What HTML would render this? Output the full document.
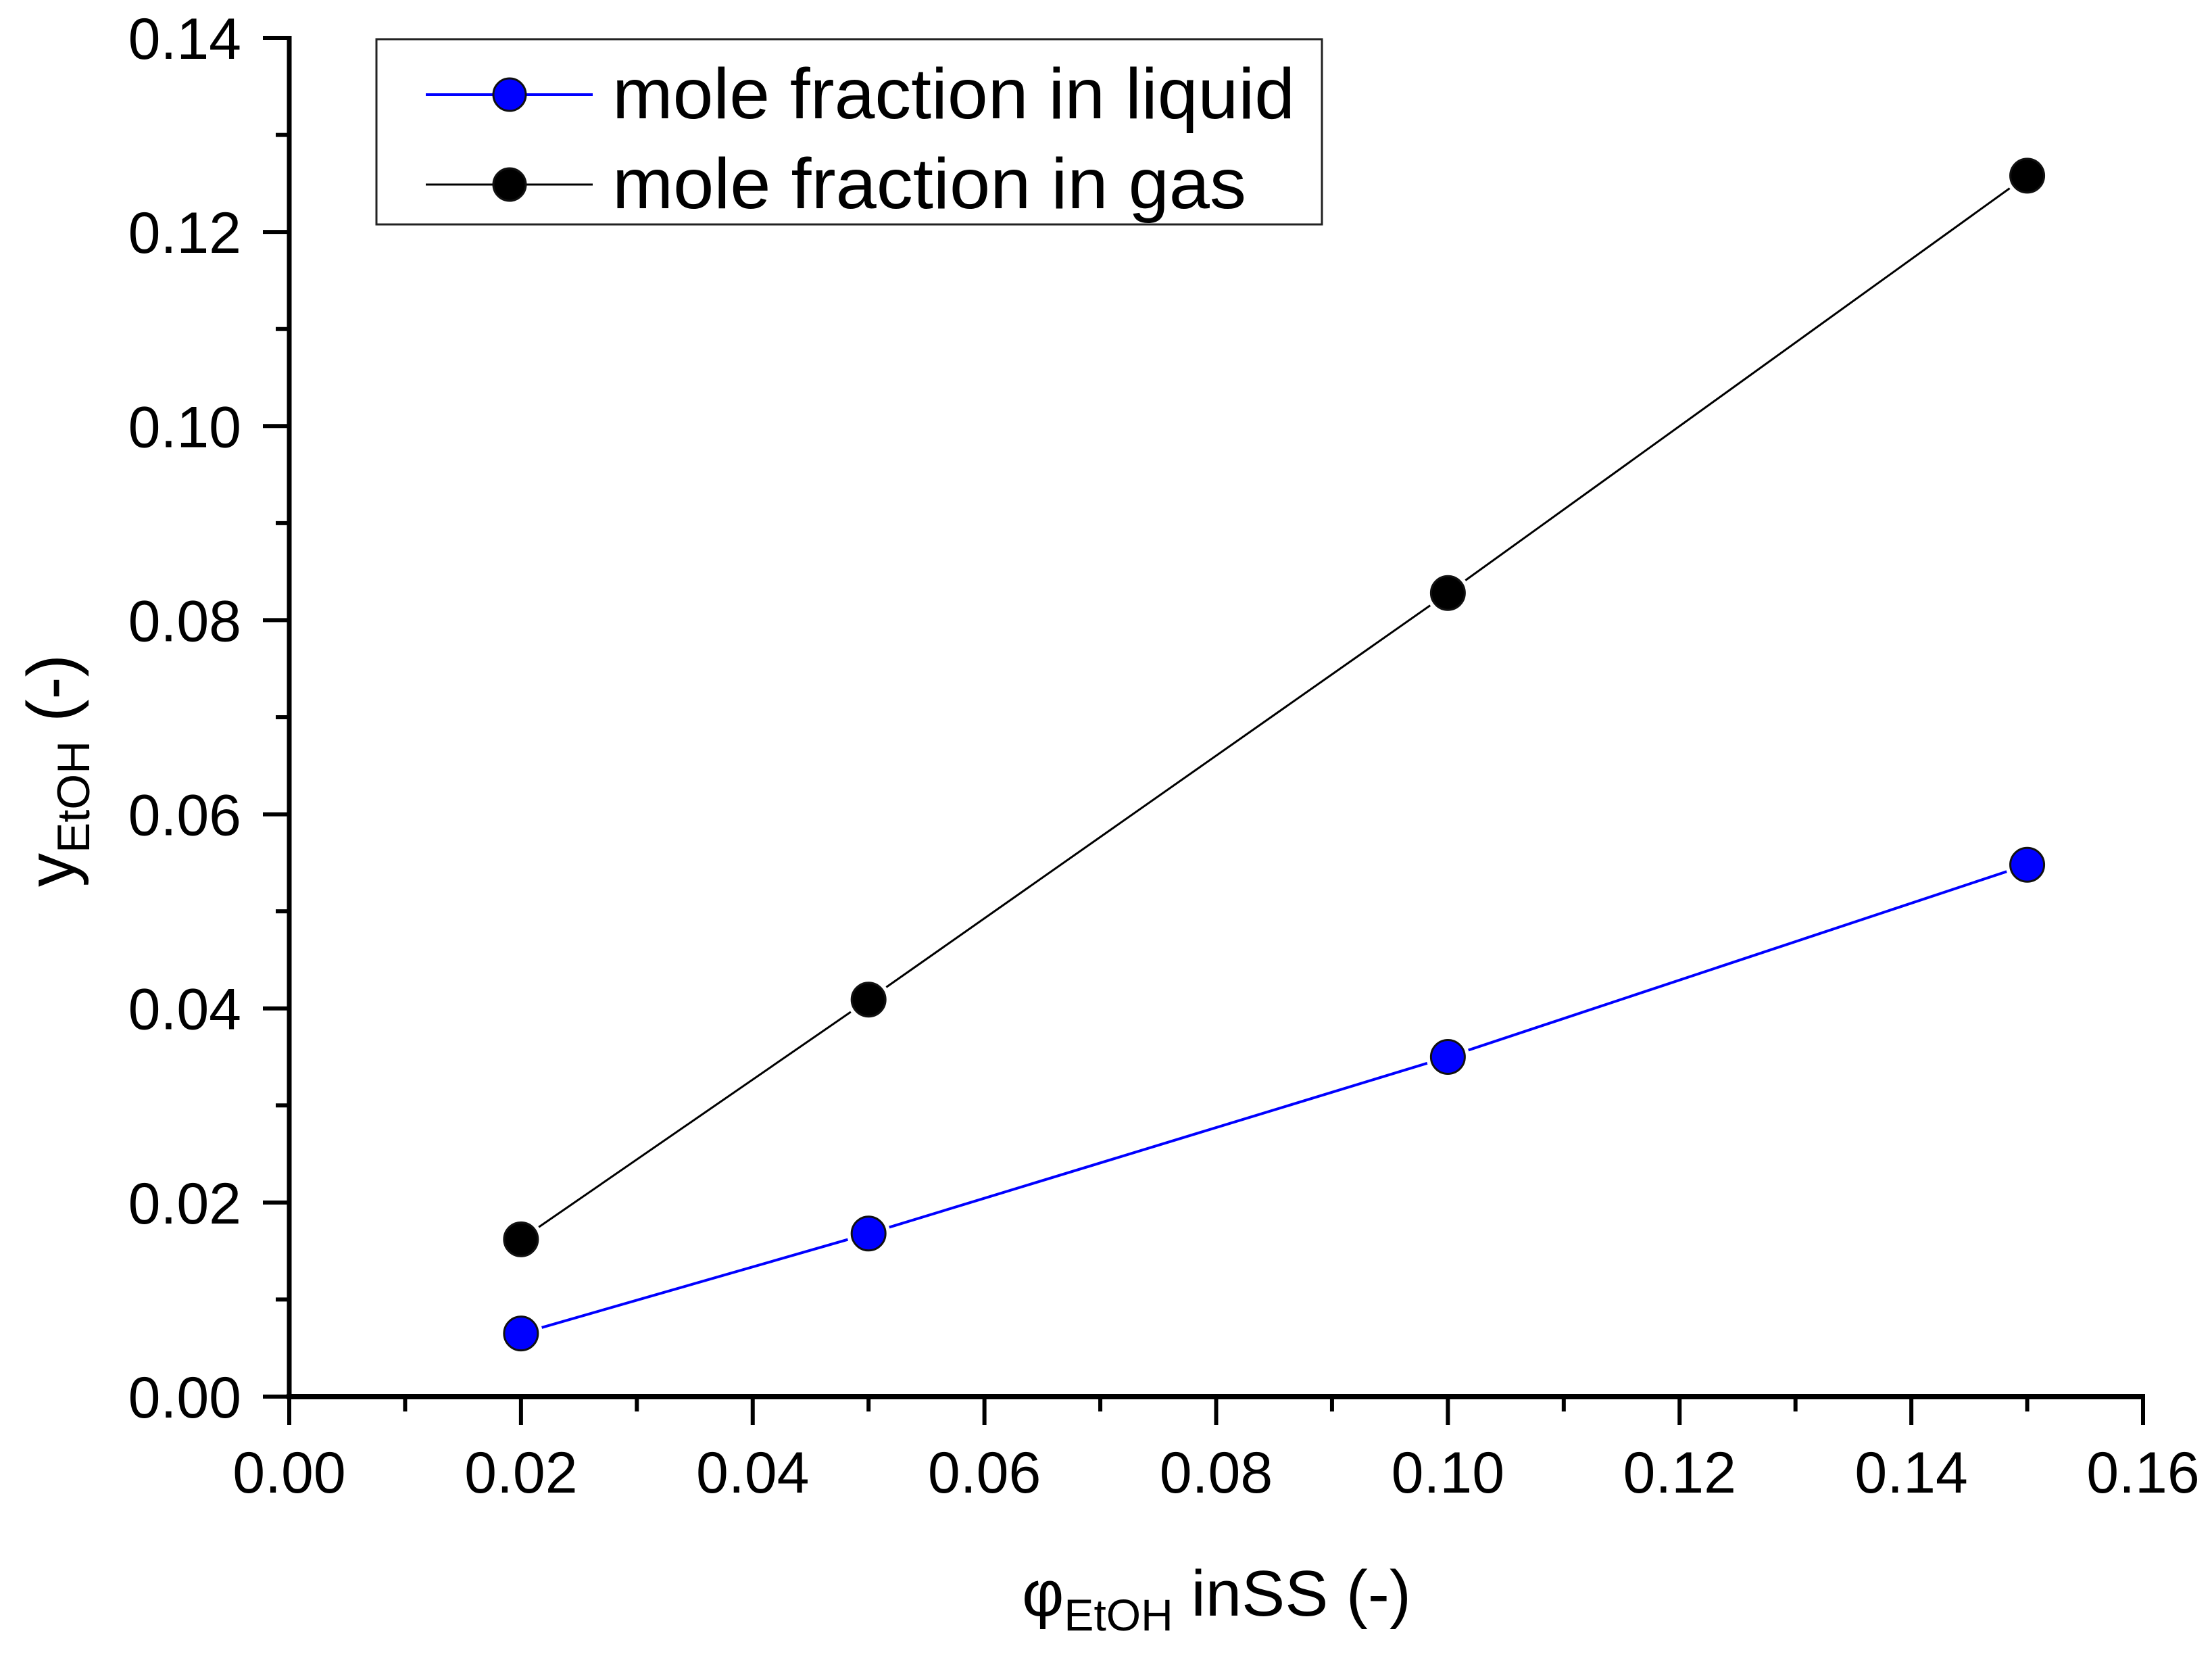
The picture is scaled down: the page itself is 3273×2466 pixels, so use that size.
<!DOCTYPE html>
<html><head><meta charset="utf-8"><style>
html,body{margin:0;padding:0;background:#fff;}
svg{display:block;font-family:"Liberation Sans",Arial,sans-serif;}
</style></head><body>
<svg id="chart" width="3273" height="2466" viewBox="0 0 3273 2466" xmlns="http://www.w3.org/2000/svg">
<rect x="0" y="0" width="3273" height="2466" fill="#fff"/>
<g id="axes"></g>
<g id="series"></g>
<text x="1800" y="2390" text-anchor="middle" font-size="96">φ<tspan font-size="66" dy="22">EtOH</tspan><tspan dy="-22"> inSS (-)</tspan></text>
<text transform="translate(110,1140) rotate(-90)" text-anchor="middle" font-size="100">y<tspan font-size="68" dy="22">EtOH</tspan><tspan dy="-22"> (-)</tspan></text>
<g>
<rect x="557" y="58" width="1399" height="274" fill="#fff" stroke="#222" stroke-width="3"/>
<g>
<line x1="630" y1="140" x2="877" y2="140" stroke="#0000ff" stroke-width="4"/>
<circle cx="754" cy="140" r="24" fill="#0000ff" stroke="#111" stroke-width="3"/>
<text x="906" y="175" font-size="106" textLength="1010" lengthAdjust="spacingAndGlyphs">mole fraction in liquid</text>
</g>
<g>
<line x1="630" y1="273" x2="877" y2="273" stroke="#000" stroke-width="3"/>
<circle cx="754" cy="273" r="24" fill="#000" stroke="#111" stroke-width="3"/>
<text x="906" y="308" font-size="106" textLength="938" lengthAdjust="spacingAndGlyphs">mole fraction in gas</text>
</g>
</g>
</svg>
<script>
const xCategories = [0.02, 0.05, 0.10, 0.15];
const liquidValues = [0.0065, 0.0168, 0.0350, 0.0548];
const gasValues = [0.0162, 0.0409, 0.0828, 0.1258];
const xTickLabels = ["0.00","0.02","0.04","0.06","0.08","0.10","0.12","0.14","0.16"];
const yTickLabels = ["0.00","0.02","0.04","0.06","0.08","0.10","0.12","0.14"];

const NS = "http://www.w3.org/2000/svg";
const X0 = 428, X1 = 3171, Y0 = 2066, Y1 = 56;
function xs(v){ return X0 + (v - 0) / 0.16 * (X1 - X0); }
function ys(v){ return Y0 - (v - 0) / 0.14 * (Y0 - Y1); }
function mk(tag, attrs, parent){ const e = document.createElementNS(NS, tag); for (const k in attrs) e.setAttribute(k, attrs[k]); parent.appendChild(e); return e; }

const axes = document.getElementById('axes');
let el = mk('line', {x1: X0, y1: Y1 - 3, x2: X0, y2: Y0 + 4, stroke: '#000', 'stroke-width': 7}, axes);


el = mk('line', {x1: X0 - 4, y1: Y0, x2: X1 + 3, y2: Y0, stroke: '#000', 'stroke-width': 8}, axes);



xTickLabels.forEach((lab, i) => {
  const v = parseFloat(lab);
  const x = xs(v);
  let t = mk('line', {x1: x, y1: Y0, x2: x, y2: Y0 + 42, stroke: '#000', 'stroke-width': 6}, axes);
  
  
  if (i < xTickLabels.length - 1) {
    const xm = xs(v + 0.01);
    let m = mk('line', {x1: xm, y1: Y0, x2: xm, y2: Y0 + 22, stroke: '#000', 'stroke-width': 6}, axes);
    
    
  }
  let tx = mk('text', {x: x, y: 2208, 'text-anchor': 'middle', 'font-size': 86}, axes);
  tx.textContent = lab;
  
  
});
yTickLabels.forEach((lab, i) => {
  const v = parseFloat(lab);
  const y = ys(v);
  let t = mk('line', {x1: X0 - 39, y1: y, x2: X0, y2: y, stroke: '#000', 'stroke-width': 6}, axes);
  
  
  if (i < yTickLabels.length - 1) {
    const ym = ys(v + 0.01);
    let m = mk('line', {x1: X0 - 20, y1: ym, x2: X0, y2: ym, stroke: '#000', 'stroke-width': 6}, axes);
    
    
  }
  let tx = mk('text', {x: 357, y: y + 31, 'text-anchor': 'end', 'font-size': 86}, axes);
  tx.textContent = lab;
  
  
});

const series = document.getElementById('series');
function drawSeries(vals, color, lw, name){
  const g = mk('g', {}, series);
  
  
  const pts = xCategories.map((c, i) => xs(c) + ',' + ys(vals[i])).join(' ');
  const pl = mk('polyline', {points: pts, fill: 'none', stroke: color, 'stroke-width': lw}, g);
  
  
  xCategories.forEach((c, i) => {
    mk('circle', {cx: xs(c), cy: ys(vals[i]), r: 32, fill: '#fff'}, g);
    const p = mk('circle', {cx: xs(c), cy: ys(vals[i]), r: 25, fill: color, stroke: '#111', 'stroke-width': 3}, g);
    
    
  });
}
drawSeries(gasValues, '#000', 3, 'gas');
drawSeries(liquidValues, '#0000ff', 4, 'liquid');
</script>
</body></html>
